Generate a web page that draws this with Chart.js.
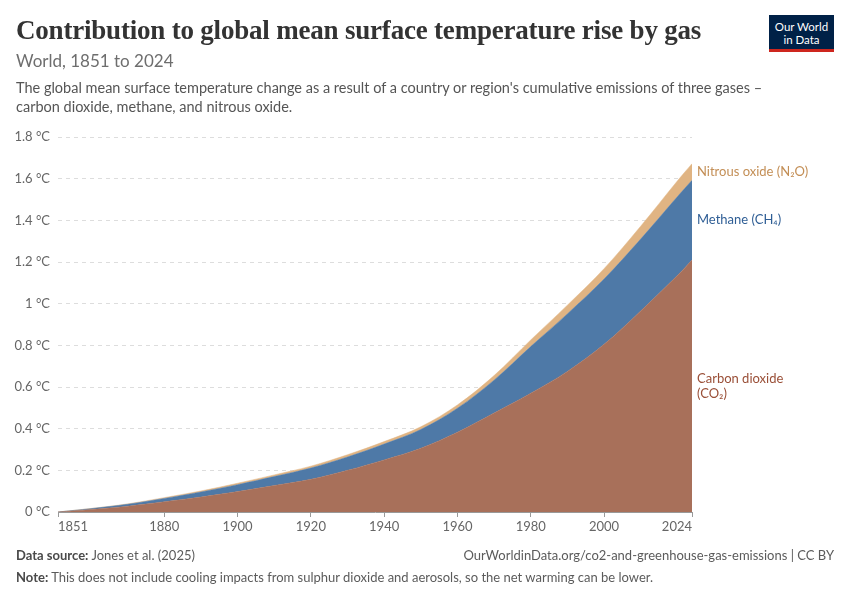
<!DOCTYPE html>
<html>
<head>
<meta charset="utf-8">
<script src="https://cdn.jsdelivr.net/npm/chart.js@4.4.1/dist/chart.umd.min.js"></script>
<style>
  body { margin: 0; width: 850px; height: 600px; background: #fff; font-family: Lato, sans-serif; position: relative; overflow: hidden; }
  .abs { position: absolute; white-space: nowrap; }
  #title { left: 16px; top: 15px; font-family: "Liberation Serif", serif; font-weight: bold; font-size: 27px; color: #333; letter-spacing: -0.2px; }
  #subtitle { left: 16px; top: 50px; font-size: 17px; color: #6e6e6e; }
  #desc { left: 16px; top: 78px; font-size: 14.5px; line-height: 19px; color: #555; white-space: normal; width: 800px; }
  #logo { left: 769px; top: 15px; width: 65px; height: 37px; background: #002147; border-bottom: 3px solid #ce261e; color: #fff; font-size: 11.5px; line-height: 13px; text-align: center; box-sizing: border-box; padding-top: 5px; }
  #source { left: 16px; top: 547px; font-size: 13px; color: #5b5b5b; }
  #url { right: 16px; top: 547px; font-size: 13px; color: #5b5b5b; }
  #note { left: 16px; top: 569px; font-size: 13px; color: #5b5b5b; }
  b { font-weight: bold; color: #4a4a4a; }
  #wrap { position: absolute; left: 0; top: 0; width: 850px; height: 600px; }
</style>
</head>
<body>
<div id="wrap"><canvas id="chart" width="850" height="600"></canvas></div>
<div id="title" class="abs">Contribution to global mean surface temperature rise by gas</div>
<div id="subtitle" class="abs">World, 1851 to 2024</div>
<div id="desc" class="abs">The global mean surface temperature change as a result of a country or region's cumulative emissions of three gases –<br>carbon dioxide, methane, and nitrous oxide.</div>
<div id="logo" class="abs">Our World<br>in Data</div>
<div id="source" class="abs"><b>Data source:</b> Jones et al. (2025)</div>
<div id="url" class="abs">OurWorldinData.org/co2-and-greenhouse-gas-emissions | CC BY</div>
<div id="note" class="abs"><b>Note:</b> This does not include cooling impacts from sulphur dioxide and aerosols, so the net warming can be lower.</div>
<script>
// years and warming (°C) by gas
const years = [1851, 1860, 1870, 1880, 1890, 1900, 1910, 1920, 1930, 1940, 1950, 1960, 1970, 1980, 1990, 2000, 2010, 2020, 2024];
const co2   = [0, 0.012, 0.028, 0.049, 0.072, 0.098, 0.127, 0.157, 0.200, 0.250, 0.306, 0.383, 0.475, 0.570, 0.675, 0.805, 0.965, 1.135, 1.210];
const ch4   = [0, 0.004, 0.009, 0.016, 0.024, 0.033, 0.043, 0.054, 0.064, 0.076, 0.090, 0.115, 0.158, 0.224, 0.276, 0.313, 0.345, 0.378, 0.382];
const n2o   = [0, 0.001, 0.002, 0.004, 0.005, 0.007, 0.008, 0.009, 0.011, 0.012, 0.013, 0.016, 0.022, 0.032, 0.042, 0.050, 0.062, 0.076, 0.080];
const xTicks = [1851, 1880, 1900, 1920, 1940, 1960, 1980, 2000, 2024];
const yTicks = [0, 0.2, 0.4, 0.6, 0.8, 1, 1.2, 1.4, 1.6, 1.8];

const series = [
    { label: 'Carbon dioxide (CO₂)', lines: ['Carbon dioxide', '(CO₂)'], values: co2, fill: '#a8705a', text: '#9a4f37' },
    { label: 'Methane (CH₄)', lines: ['Methane (CH₄)'], values: ch4, fill: '#4e79a7', text: '#2f5e95' },
    { label: 'Nitrous oxide (N₂O)', lines: ['Nitrous oxide (N₂O)'], values: n2o, fill: '#e0b483', text: '#c38e55' }
];

// labels at the right end, centred on each band
const endLabels = {
    id: 'endLabels',
    afterDatasetsDraw(chart) {
        const ctx = chart.ctx;
        const y = chart.scales.y;
        const last = years.length - 1;
        let base = 0;
        ctx.save();
        ctx.font = '13px Lato';
        ctx.textBaseline = 'middle';
        ctx.textAlign = 'left';
        series.forEach(s => {
            const v = s.values[last];
            const mid = y.getPixelForValue(base + v / 2);
            base += v;
            ctx.fillStyle = s.text;
            const h = 15;
            const top = mid - (s.lines.length - 1) * h / 2;
            s.lines.forEach((t, i) => ctx.fillText(t, chart.chartArea.right + 5, top + i * h));
        });
        ctx.restore();
    }
};

new Chart(document.getElementById('chart'), {
    type: 'line',
    data: {
        datasets: series.map((s, i) => ({
            label: s.label,
            data: years.map((yr, j) => ({ x: yr, y: s.values[j] })),
            backgroundColor: s.fill,
            borderColor: s.fill,
            borderWidth: 0.5,
            pointRadius: 0,
            tension: 0.35,
            fill: i === 0 ? 'origin' : '-1'
        }))
    },
    options: {
        responsive: false,
        animation: false,
        events: [],
        layout: { padding: { left: 0, top: 137, right: 158, bottom: 0 } },
        plugins: { legend: { display: false }, tooltip: { enabled: false } },
        scales: {
            x: {
                type: 'linear',
                min: 1851,
                max: 2024,
                afterBuildTicks: scale => { scale.ticks = xTicks.map(v => ({ value: v })); },
                afterFit: scale => { scale.height = 88; },
                ticks: { align: 'inner', color: '#666', font: { family: 'Lato', size: 13 }, padding: 2, maxRotation: 0, callback: v => String(v) },
                grid: { drawOnChartArea: false, tickLength: 5, color: '#999' },
                border: { display: true, color: '#999' }
            },
            y: {
                stacked: true,
                min: 0,
                max: 1.8,
                afterBuildTicks: scale => { scale.ticks = yTicks.map(v => ({ value: v })); },
                afterFit: scale => { scale.width = 58; },
                ticks: { color: '#666', font: { family: 'Lato', size: 13 }, padding: 8, callback: v => v + ' °C' },
                grid: { drawTicks: false, color: '#ddd' },
                border: { display: false, dash: [4, 4] }
            }
        }
    },
    plugins: [endLabels]
});
</script>
</body>
</html>
